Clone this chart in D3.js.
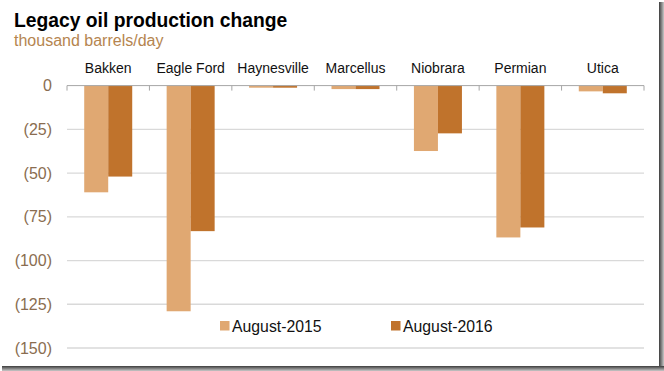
<!DOCTYPE html>
<html><head><meta charset="utf-8">
<script src="https://cdn.jsdelivr.net/npm/d3@7/dist/d3.min.js"></script>
<style>body{margin:0;background:#fff}svg{display:block;font-family:"Liberation Sans",Arial,sans-serif}</style>
</head><body><svg id="c" width="664" height="371"></svg>
<script>
const categories = ["Bakken","Eagle Ford","Haynesville","Marcellus","Niobrara","Permian","Utica"];
const seriesNames = ["August-2015","August-2016"];
const aug2015 = [-61, -129, -1.2, -2, -37.4, -86.8, -3.3];
const aug2016 = [-52, -83.2, -1.2, -2, -27.3, -81.1, -4.4];
const tickValues = [0,-25,-50,-75,-100,-125,-150];
const colors = ["#e0a872","#c0732c"];

const svg = d3.select("#c");
const series = [aug2015, aug2016];

const x0 = d3.scaleBand().domain(categories).range([67,644]).paddingInner(0);
const x1 = d3.scaleBand().domain(seriesNames).range([0,x0.bandwidth()]).paddingInner(0).paddingOuter(0.717);
const y = d3.scaleLinear().domain([-150,0]).range([348,85.6]);

// gridlines
svg.append("g").selectAll("line").data(tickValues.filter(d=>d!==0)).join("line")
  .attr("x1",67).attr("x2",644).attr("y1",d=>y(d)).attr("y2",d=>y(d))
  .attr("stroke","#d9d9d9").attr("stroke-width",1.3);

// y tick labels
const yAxis = d3.axisLeft(y).tickValues(tickValues).tickSize(0).tickPadding(0)
  .tickFormat(d=> d===0 ? "0" : "(" + Math.abs(d) + ")");
const ga = svg.append("g").attr("transform","translate(52,0)").call(yAxis);
ga.select(".domain").remove();
ga.selectAll("text").attr("fill","#8a6d50").attr("font-size","16px")
  .attr("font-family","'Liberation Sans',Arial,sans-serif");

// bars
const g = svg.append("g");
categories.forEach((c,i)=>{
  seriesNames.forEach((s,j)=>{
    const v = series[j][i];
    g.append("rect")
      .attr("x", x0(c)+x1(s))
      .attr("width", x1.bandwidth())
      .attr("y", y(0))
      .attr("height", y(v)-y(0))
      .attr("fill", colors[j]);
  });
});

// zero line with ticks at band boundaries
svg.append("line").attr("x1",67).attr("x2",644).attr("y1",y(0)).attr("y2",y(0))
  .attr("stroke","#a6a6a6").attr("stroke-width",1);
const bounds = categories.map(c=>x0(c)).concat([x0.range()[1]]);
svg.append("g").selectAll("line").data(bounds).join("line")
  .attr("x1",d=>d).attr("x2",d=>d).attr("y1",y(0)).attr("y2",y(0)+5)
  .attr("stroke","#a6a6a6").attr("stroke-width",1);

// category labels (top axis)
const xAxis = d3.axisTop(x0).tickSize(0).tickPadding(0);
const gx = svg.append("g").attr("transform","translate(0,73)").call(xAxis);
gx.select(".domain").remove();
gx.selectAll("text").attr("fill","#111").attr("font-size","14px").attr("dy",0)
  .attr("font-family","'Liberation Sans',Arial,sans-serif");

// title
svg.append("text").attr("x",14).attr("y",27).text("Legacy oil production change")
  .attr("font-size","19.3px").attr("font-weight","bold").attr("fill","#000");
svg.append("text").attr("x",14).attr("y",46).text("thousand barrels/day")
  .attr("font-size","16px").attr("fill","#b5854f");

// legend
const legX = [220, 391];
seriesNames.forEach((s,j)=>{
  svg.append("rect").attr("x",legX[j]).attr("y",321).attr("width",9.5).attr("height",9.5).attr("fill",colors[j]);
  svg.append("text").attr("x",legX[j]+12).attr("y",331.5).text(s)
    .attr("font-size","15.8px").attr("fill","#111");
});

// frame shadow
const defs = svg.append("defs");
const gr = defs.append("linearGradient").attr("id","gr").attr("x1",0).attr("x2",1).attr("y1",0).attr("y2",0);
gr.append("stop").attr("offset","0%").attr("stop-color","#3c3c3c");
gr.append("stop").attr("offset","100%").attr("stop-color","#c8c8c8");
const gb = defs.append("linearGradient").attr("id","gb").attr("x1",0).attr("x2",0).attr("y1",0).attr("y2",1);
gb.append("stop").attr("offset","0%").attr("stop-color","#3c3c3c");
gb.append("stop").attr("offset","100%").attr("stop-color","#c8c8c8");
svg.append("rect").attr("x",659).attr("y",2).attr("width",5).attr("height",369).attr("fill","url(#gr)");
svg.append("rect").attr("x",2).attr("y",366).attr("width",662).attr("height",5).attr("fill","url(#gb)");
</script></body></html>
